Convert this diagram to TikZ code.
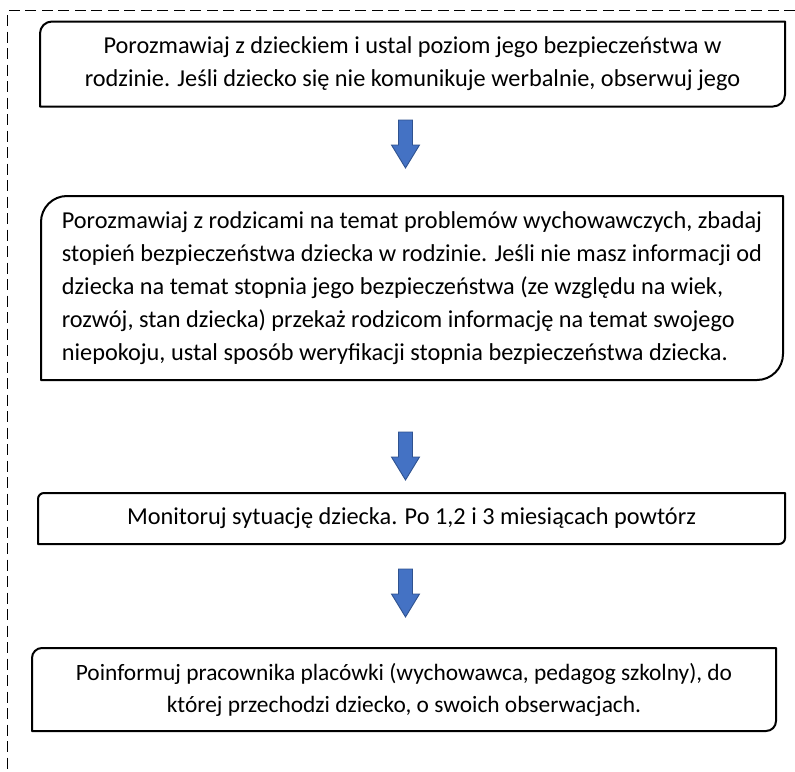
\documentclass[tikz,border=0pt]{standalone}
\usepackage{fontspec}
\setmainfont{Carlito}
\definecolor{arrowblue}{HTML}{4472C4}
\definecolor{arrowdark}{HTML}{2F528F}
\newcommand\drawdiagbox[2]{%
  \draw[boxline] (#1.west) [rounded corners=#2]-- (#1.north west) -- (#1.north)
    [sharp corners]-- (#1.north east) -- (#1.east)
    [rounded corners=#2]-- (#1.south east) -- (#1.south)
    [sharp corners]-- (#1.south west) -- cycle;}
\newcommand\blockarrow[1]{%
  \begin{scope}[shift={(#1)}]
    \draw[arrowshape] (-7,0) -- (7,0) -- (7,25) -- (14,25) -- (0,48) -- (-14,25) -- (-7,25) -- cycle;
  \end{scope}}
\begin{document}
\begin{tikzpicture}[x=1pt,y=-1pt,
  txt/.style={font=\fontsize{24.3}{33}\selectfont, inner sep=0pt, outer sep=0pt, align=center},
  boxline/.style={line width=2pt, line join=round, draw=black},
  arrowshape/.style={fill=arrowblue, draw=arrowdark, line width=0.9pt, line join=miter},
  border/.style={line width=1.9pt, dash pattern=on 11pt off 5.5pt}]
\useasboundingbox (0,0) rectangle (795,771);
% dashed frame (only top and left visible)
\coordinate (frTR) at (795,10.5);
\coordinate (frTL) at (7.5,10.5);
\coordinate (frBL) at (7.5,771);
\draw[border] (frTR) -- (frTL) -- (frBL);

% box 1
\node[txt, minimum width=745pt, minimum height=85pt] (b1) at (412.5,64)
  {Porozmawiaj z dzieckiem i ustal poziom jego bezpieczeństwa w\\
   rodzinie. Jeśli dziecko się nie komunikuje werbalnie, obserwuj jego};
\drawdiagbox{b1}{12pt}

% box 2
\node[txt, align=left, minimum width=742pt, minimum height=184pt] (b2) at (412,288)
  {Porozmawiaj z rodzicami na temat problemów wychowawczych, zbadaj\\
   stopień bezpieczeństwa dziecka w rodzinie. Jeśli nie masz informacji od\\
   dziecka na temat stopnia jego bezpieczeństwa (ze względu na wiek,\\
   rozwój, stan dziecka) przekaż rodzicom informację na temat swojego\\
   niepokoju, ustal sposób weryfikacji stopnia bezpieczeństwa dziecka.};
\drawdiagbox{b2}{26pt}

% box 3
\node[txt, minimum width=747pt, minimum height=51pt] (b3) at (411.5,518.5)
  {Monitoruj sytuację dziecka. Po 1,2 i 3 miesiącach powtórz};
\drawdiagbox{b3}{6pt}

% box 4
\node[txt, font=\fontsize{23.4}{32}\selectfont, minimum width=744pt, minimum height=83pt] (b4) at (404,689.5)
  {Poinformuj pracownika placówki (wychowawca, pedagog szkolny), do\\
   której przechodzi dziecko, o swoich obserwacjach.};
\drawdiagbox{b4}{10pt}

% arrows
\coordinate (a1) at (405.5,120);
\coordinate (a2) at (405.5,432);
\coordinate (a3) at (405.5,569);
\blockarrow{a1}
\blockarrow{a2}
\blockarrow{a3}
\end{tikzpicture}
\end{document}
